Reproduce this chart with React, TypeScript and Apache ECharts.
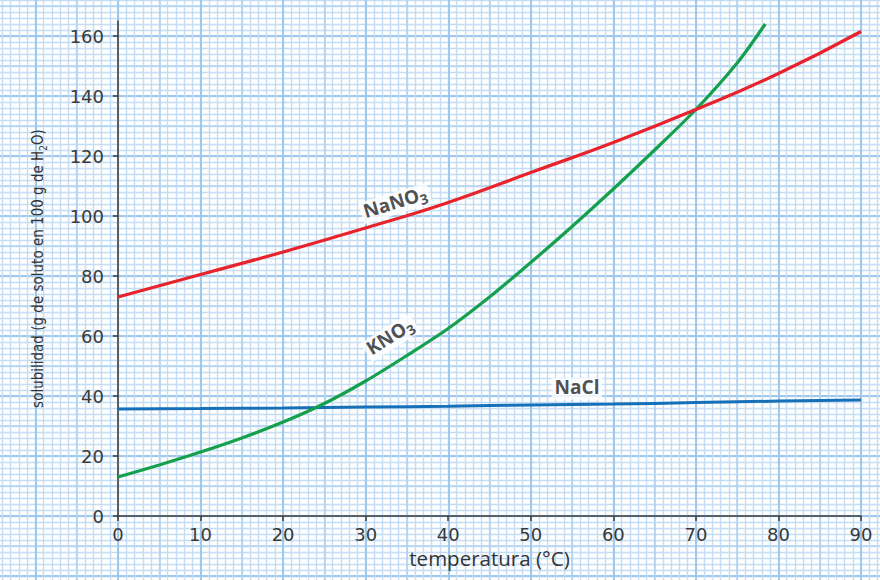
import React, { useEffect, useRef } from "react";
import * as echarts from "echarts";

const xTickValues = [0, 10, 20, 30, 40, 50, 60, 70, 80, 90];
const yTickValues = [0, 20, 40, 60, 80, 100, 120, 140, 160];

const naclTemps = [0, 10, 20, 30, 40, 50, 60, 70, 80, 90];
const naclValues = [35.7, 35.8, 36.0, 36.3, 36.6, 37.0, 37.3, 37.8, 38.3, 38.7];

const kno3Temps = [0, 5, 10, 15, 20, 25, 30, 35, 40, 45, 50, 55, 60, 65, 70, 75, 78.4];
const kno3Values = [13, 17, 21.3, 26, 31.3, 37.5, 45, 53.5, 62.5, 73, 84.5, 96.5, 109, 122, 135.5, 151, 164];

const nano3Temps = [0, 10, 20, 30, 40, 50, 60, 70, 80, 90];
const nano3Values = [73, 80.5, 88, 96, 104.5, 114.5, 124.5, 135.5, 147.5, 161.5];

const labelNames = ["NaNO3", "KNO3", "NaCl"];
const labelX = [33.6, 33.0, 55.6];
const labelY = [104.2, 59.5, 42.4];
const labelAngles = [17, 32, 0];

const FONT = "'Open Sans', 'DejaVu Sans', sans-serif";
const TICKFONT = "'DejaVu Sans', sans-serif";
const NARROW = "'Liberation Sans Narrow', 'DejaVu Sans Condensed', sans-serif";

function pairs(xs: number[], ys: number[]) {
  return xs.map((x, i) => [x, ys[i]]);
}

function chemRich(name: string) {
  return name.replace(/(\d)/g, "}{s|$1}{n|").replace(/^/, "{n|").concat("}").replace(/\{n\|\}/g, "");
}

export default function App() {
  const ref = useRef<HTMLDivElement>(null);
  useEffect(() => {
    if (!ref.current) return;
    const chart = echarts.init(ref.current, null, { renderer: "svg" });
    const bgAxis = (min: number, max: number, interval: number, color: string, width: number) => ({
      type: "value" as const,
      gridIndex: 0,
      min,
      max,
      interval,
      axisLine: { show: false },
      axisTick: { show: false },
      axisLabel: { show: false },
      splitLine: { show: true, lineStyle: { color, width } },
    });
    const minorC = "#c4ddf4";
    const midC = "#b2d2ef";
    const majC = "#9fc8ec";
    const axisColor = "#3c3c3c";
    const rich = {
      n: { fontSize: 19, fontWeight: "bold", color: "#222", fontFamily: FONT, lineHeight: 22, verticalAlign: "top" },
      s: { fontSize: 14, fontWeight: "bold", color: "#222", fontFamily: FONT, lineHeight: 14, verticalAlign: "bottom", padding: [10, 0, 0, 0] },
    };
    chart.setOption({
      animation: false,
      backgroundColor: "#ffffff",
      grid: [
        { left: -47.1, top: -24, width: 990.7, height: 660, outerBoundsMode: "none", containLabel: false },
        { left: 118, top: 21, width: 743, height: 495, outerBoundsMode: "none", containLabel: false },
      ],
      xAxis: [
        bgAxis(-20, 100, 1, minorC, 1.4),
        bgAxis(-20, 100, 5, midC, 1.6),
        bgAxis(-20, 100, 10, majC, 2),
        {
          type: "value",
          gridIndex: 1,
          min: 0,
          max: 90,
          interval: 10,
          name: "temperatura (°C)",
          nameLocation: "middle",
          nameGap: 30,
          nameTextStyle: { fontSize: 20.5, color: "#333", fontFamily: FONT },
          axisLine: { show: true, lineStyle: { color: axisColor, width: 1.5 } },
          axisTick: { show: true, length: 5, lineStyle: { color: axisColor, width: 1.5 } },
          axisLabel: { show: true, fontSize: 18, color: "#3a3a3a", fontFamily: TICKFONT, margin: 9 },
          splitLine: { show: false },
        },
      ],
      yAxis: [
        bgAxis(-40, 180, 2, minorC, 1.4),
        bgAxis(-40, 180, 10, midC, 1.6),
        bgAxis(-40, 180, 20, majC, 2),
        {
          type: "value",
          gridIndex: 1,
          min: 0,
          max: 165,
          name: "{a|solubilidad (g de soluto en 100 g de H}{b|2}{a|O)}",
          nameLocation: "middle",
          nameGap: 70,
          nameTextStyle: {
            rich: {
              a: { fontSize: 15, color: "#333", fontFamily: NARROW, lineHeight: 18, verticalAlign: "top" },
              b: { fontSize: 10, color: "#333", fontFamily: NARROW, lineHeight: 10, verticalAlign: "bottom", padding: [10, 0, 0, 0] },
            },
          },
          axisLine: { show: true, lineStyle: { color: axisColor, width: 1.5 } },
          axisTick: { show: true, length: 5, customValues: yTickValues, lineStyle: { color: axisColor, width: 1.5 } },
          axisLabel: { show: true, fontSize: 18, color: "#3a3a3a", fontFamily: TICKFONT, margin: 14, customValues: yTickValues },
          splitLine: { show: false },
        },
      ],
      series: [
        {
          type: "line",
          name: "NaCl",
          xAxisIndex: 3,
          yAxisIndex: 3,
          data: pairs(naclTemps, naclValues),
          smooth: true,
          showSymbol: false,
          lineStyle: { color: "#1670b8", width: 3 },
          itemStyle: { color: "#1670b8" },
        },
        {
          type: "line",
          name: "KNO3",
          xAxisIndex: 3,
          yAxisIndex: 3,
          data: pairs(kno3Temps, kno3Values),
          smooth: 0.3,
          showSymbol: false,
          lineStyle: { color: "#14a04c", width: 3.2 },
          itemStyle: { color: "#14a04c" },
        },
        {
          type: "line",
          name: "NaNO3",
          xAxisIndex: 3,
          yAxisIndex: 3,
          data: pairs(nano3Temps, nano3Values),
          smooth: true,
          showSymbol: false,
          lineStyle: { color: "#e8232b", width: 3.2 },
          itemStyle: { color: "#e8232b" },
        },
        {
          type: "scatter",
          xAxisIndex: 3,
          yAxisIndex: 3,
          symbolSize: 0,
          silent: true,
          data: labelNames.map((nm, i) => ({
            value: [labelX[i], labelY[i]],
            label: {
              show: true,
              position: "inside",
              rotate: labelAngles[i],
              formatter: chemRich(nm),
              backgroundColor: "#ffffff",
              padding: [0, 3, 0, 3],
              rich,
            },
          })),
        },
      ],
    });
    return () => chart.dispose();
  }, []);
  return <div ref={ref} style={{ position: "fixed", left: 0, top: 0, width: 880, height: 580 }} />;
}
